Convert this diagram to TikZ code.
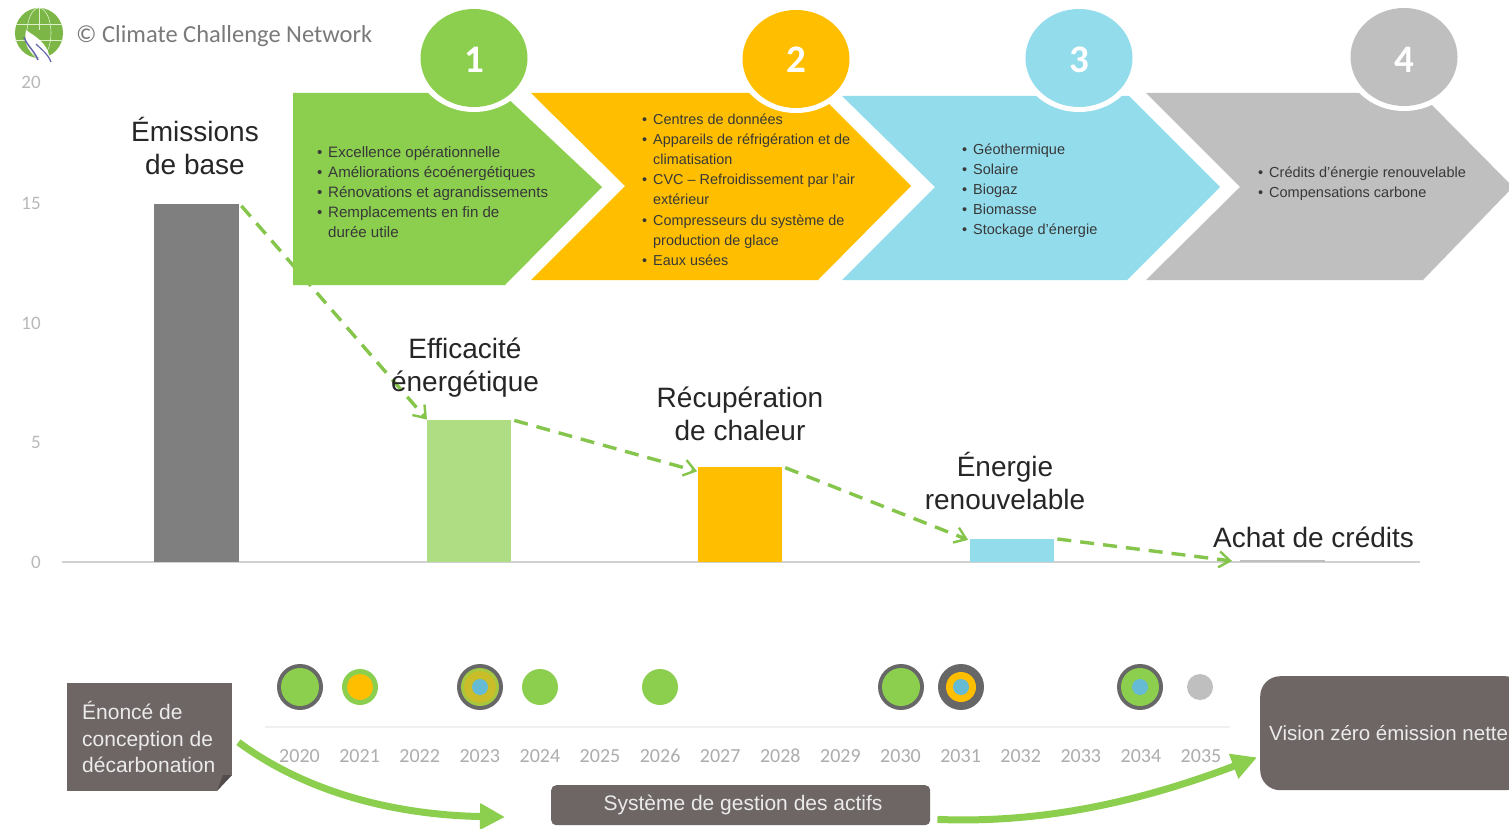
\documentclass[tikz,border=0pt]{standalone}
\usepackage{fontspec}
\setmainfont{Liberation Sans}
\newfontfamily\carl{Carlito}
\usetikzlibrary{arrows.meta}
\definecolor{cgreen}{HTML}{8CCF4F}
\definecolor{corange}{HTML}{FFBF00}
\definecolor{cblue}{HTML}{93DCEC}
\definecolor{cgrey}{HTML}{BFBFBF}
\definecolor{cdark}{HTML}{6E6565}
\definecolor{cbar}{HTML}{7F7F7F}
\definecolor{clight}{HTML}{AEDD83}
\definecolor{cyell}{HTML}{C9BE2A}
\definecolor{cdot}{HTML}{65BBD3}
\definecolor{cring}{HTML}{676767}
\newcommand{\bul}{\makebox[11pt][l]{•}}
\newcommand{\ind}{\hspace*{11pt}}
\tikzset{
 x=1pt,y=-1pt,
 barbox/.style={fill=#1,draw=none,inner sep=0pt,anchor=south west},
 blist/.style={anchor=west,align=left,inner sep=0pt,text=black!78,font=\fontsize{#1}{20.2}\selectfont},
 heading/.style={align=center,inner sep=0pt,text=black!85,font=\fontsize{28}{33}\selectfont},
 axislab/.style={text=black!28,inner sep=0pt,font=\carl\fontsize{19}{20}\selectfont},
 yearlab/.style={text=black!32,inner sep=0pt,font=\carl\fontsize{20}{20}\selectfont},
 numlab/.style={text=white,inner sep=0pt,font=\carl\bfseries\fontsize{39}{40}\selectfont},
 whitebox/.style={text=white!92!black,inner sep=0pt,fill=cdark},
 dashline/.style={draw=cgreen!95!black,line width=3.4pt,dash pattern=on 14pt off 9pt,-{Straight Barb[length=11pt,width=16pt,line width=2.4pt]}},
 bigarrow/.style={draw=cgreen,line width=7pt,-{Triangle[length=25pt,width=25pt]}},
}
\begin{document}
\begin{tikzpicture}
\useasboundingbox (0,0) rectangle (1509,829);
\fill[white] (0,0) rectangle (1509,829);

% logo
\fill[cgreen!88!black] (39,33) ellipse (24 and 25);
\draw[white!70!cgreen,line width=.6pt] (16,24)--(62,24) (15,40)--(63,40) (39,8)--(39,30);
\draw[white!70!cgreen,line width=.6pt] (39,33) ellipse (12 and 25);
\fill[white] (26,30) .. controls (34,36) and (48,42) .. (50,60) .. controls (36,60) and (22,50) .. (26,30);
\draw[black!55!blue!60!white,line width=1.5pt] (24,37) .. controls (27,46) and (34,50) .. (38,60);
\draw[black!55!blue!60!white,line width=1.2pt] (36,44) .. controls (42,50) and (48,54) .. (51,62);
\node[inner sep=0pt,anchor=west,text=black!52,font=\carl\fontsize{24.5}{26}\selectfont] (credit) at (76,36) {© Climate Challenge Network};

% axis labels
\node[axislab] (y20) at (31,82) {20};
\node[axislab] (y15) at (31,203) {15};
\node[axislab] (y10) at (31,323) {10};
\node[axislab] (y5) at (36,442) {5};
\node[axislab] (y0) at (36,562) {0};
\draw[black!18,line width=1.6pt] (62,562) -- (1420,562);

% bars
\node[barbox=cbar,minimum width=85pt,minimum height=358pt] (b1) at (154,562) {};
\node[barbox=clight,minimum width=84pt,minimum height=142pt] (b2) at (427,562) {};
\node[barbox=corange,minimum width=84pt,minimum height=95pt] (b3) at (698,562) {};
\node[barbox=cblue,minimum width=84pt,minimum height=23pt] (b4) at (970,562) {};
\node[barbox=black!25,minimum width=85pt,minimum height=1.5pt] (b5) at (1240,562) {};

% dashed connectors
\draw[dashline,shorten <=3pt] (b1.north east) -- (b2.north west);
\draw[dashline,shorten <=3pt,shorten >=1pt] (b2.north east) -- ([yshift=-5pt]b3.north west);
\draw[dashline,shorten <=3pt,shorten >=2pt] (b3.north east) -- ([yshift=-2pt]b4.north west);
\draw[dashline,shorten <=3pt,shorten >=8pt] (b4.north east) -- (b5.south west);

% chevrons
\fill[cgreen] (293,93)--(502,93)--(602,187)--(505,285)--(293,285)--cycle;
\fill[corange] (531,93)--(818,93)--(911,186)--(818,280)--(531,280)--(625,186)--cycle;
\fill[cblue] (842,96)--(1129,96)--(1220,187)--(1127,280)--(842,280)--(935,187)--cycle;
\fill[cgrey] (1146,93)--(1420,93)--(1513,187)--(1423,280)--(1146,280)--(1240,187)--cycle;

% numbered circles
\foreach \cx/\cy/\cc/\nn in {474/58/cgreen/1,796/59/corange/2,1079/58/cblue/3,1404/57/cgrey/4}{
  \fill[white] (\cx,\cy) ellipse (60 and 54);
  \fill[\cc] (\cx,\cy) ellipse (53.5 and 49);
  \node[numlab] (n\nn) at (\cx,60) {\nn};
}

% lists
\node[blist=15.1] (l1) at (317,192) {\bul Excellence opérationnelle\\\bul Améliorations écoénergétiques\\\bul Rénovations et agrandissements\\\bul Remplacements en fin de\\\ind durée utile};
\node[blist=14.4] (l2) at (642,189.6) {\bul Centres de données\\\bul Appareils de réfrigération et de\\\ind climatisation\\\bul CVC – Refroidissement par l’air\\\ind extérieur\\\bul Compresseurs du système de\\\ind production de glace\\\bul Eaux usées};
\node[blist=14.5] (l3) at (962,190.6) {\bul Géothermique\\\bul Solaire\\\bul Biogaz\\\bul Biomasse\\\bul Stockage d’énergie};
\node[blist=14.5] (l4) at (1258,184) {\bul Crédits d’énergie renouvelable\\\bul Compensations carbone};

% headings
\node[heading] (h1) at (195,146) {Émissions\\de base};
\node[heading] (h2) at (465,367.5) {Efficacité\\énergétique};
\node[heading] (h3) at (740,414) {Récupération\\de chaleur};
\node[heading] (h4) at (1005,481) {Énergie\\renouvelable};
\node[heading,anchor=west] (h5) at (1213,537) {Achat de crédits};

% timeline
\draw[black!6,line width=1.5pt] (265,727) -- (1230,727);
\foreach \yy [count=\i from 0] in {2020,...,2035}{
  \node[yearlab] (t\yy) at ({299.5+60.1*\i},756) {\yy};
}
% markers
\foreach \cx in {300,901}{
  \fill[cring] (\cx,687) circle (23);
  \fill[cgreen] (\cx,687) circle (19);
}
\fill[cgreen] (360,687) circle (18);
\fill[corange] (360,687) circle (13);
\fill[cring] (480,687) circle (23);
\fill[cgreen!60!cyell] (480,687) circle (19);
\fill[cyell] (480,687) circle (16);
\fill[cdot] (480,687) circle (8);
\fill[cgreen] (540,687) circle (18);
\fill[cgreen] (660,687) circle (18);
\fill[cring] (961,687) circle (23);
\fill[corange] (961,687) circle (15);
\fill[cdot] (961,687) circle (8);
\fill[cring] (1140,687) circle (23);
\fill[cgreen] (1140,687) circle (19);
\fill[cdot] (1140,687) circle (8);
\fill[cgrey] (1200,687) circle (13);

% bottom boxes
\node[whitebox,minimum width=165pt,minimum height=108pt,anchor=north west] (stmt) at (67,683) {};
\fill[white] (233,774) -- (233,792) -- (216,792) -- cycle;
\fill[cdark!75!black] (232,775) -- (217,791) -- (223,775) -- cycle;
\node[anchor=west,align=left,inner sep=0pt,text=white!92!black,font=\fontsize{21}{26.5}\selectfont] (stmtt) at (82,737) {Énoncé de\\conception de\\décarbonation};
\node[whitebox,rounded corners=5pt,minimum width=379pt,minimum height=40pt,anchor=north west] (sys) at (551,785) {};
\node[inner sep=0pt,text=white!92!black,font=\fontsize{21}{24}\selectfont] (syst) at (743,805) {Système de gestion des actifs};
\node[whitebox,rounded corners=20pt,minimum width=265pt,minimum height=114pt,anchor=north west] (vis) at (1260,676) {};
\node[anchor=west,inner sep=0pt,text=white!92!black,font=\fontsize{20.5}{24}\selectfont] (vist) at (1269,733) {Vision zéro émission nette};

% big arrows
\coordinate (a1) at (505,817);
\draw[bigarrow] ([xshift=6pt,yshift=-5pt]stmt.east) .. controls (310,795) and (400,815) .. (a1);
\draw[bigarrow] ([xshift=7pt,yshift=6pt]sys.south east) .. controls (1050,824) and (1150,798) .. ([xshift=-3pt,yshift=33pt]vis.south west);
\end{tikzpicture}
\end{document}
